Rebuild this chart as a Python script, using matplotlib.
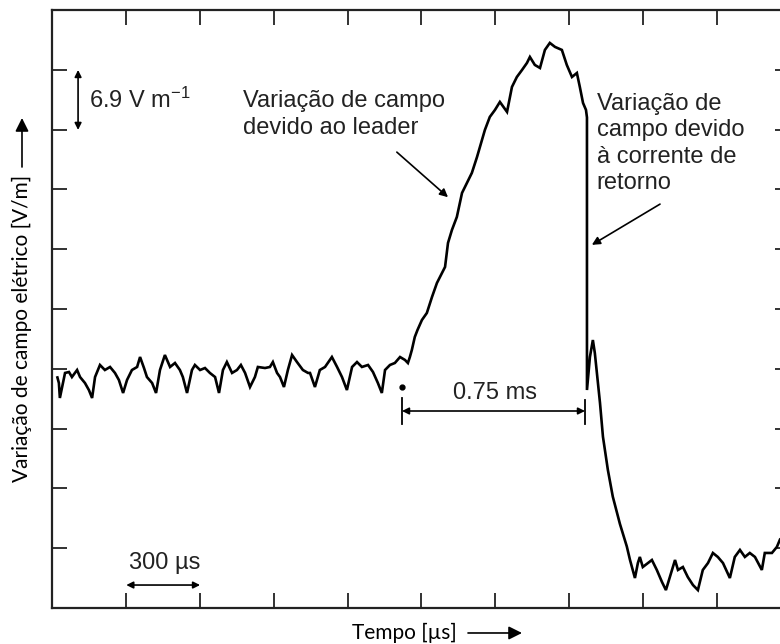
import matplotlib.pyplot as plt
import numpy as np

plt.rcParams["font.family"] = ["Liberation Sans", "DejaVu Sans"]
plt.rcParams["mathtext.default"] = "regular"

# registo da variação do campo: tempo [µs] e campo [V/m]
tempo = [
    20, 26, 30, 51, 67, 79, 100, 112, 132, 148, 161, 173, 193, 213, 234, 254,
    270, 287, 303, 323, 344, 356, 372, 384, 405, 421, 437, 457, 478, 498, 518,
    530, 547, 567, 579, 600, 620, 640, 661, 677, 693, 709, 730, 750, 766, 783,
    803, 823, 835, 864, 884, 896, 913, 925, 941, 957, 974, 994, 1018, 1039,
    1047, 1067, 1087, 1108, 1136, 1157, 1177, 1197, 1218, 1238, 1258, 1283,
    1303, 1323, 1339, 1352, 1372, 1392, 1413, 1433, 1445,
    # subida (leader)
    1453, 1461, 1473, 1484, 1502, 1522, 1543, 1563, 1596, 1608, 1624, 1644,
    1665, 1685, 1705, 1726, 1746, 1758, 1778, 1799, 1819, 1848, 1868, 1888,
    1909, 1929, 1941, 1961, 1982, 2002, 2022, 2043, 2071, 2091, 2112, 2132,
    2144, 2157, 2169,
    # corrente de retorno
    2173, 2173, 2185, 2197, 2205, 2226, 2238, 2258, 2278, 2307, 2335, 2348,
    2368, 2380, 2388, 2400, 2421, 2437, 2457, 2478, 2494, 2510, 2531, 2543,
    2563, 2583, 2604, 2624, 2644, 2665, 2685, 2705, 2726, 2754, 2774, 2795,
    2815, 2835, 2856, 2884, 2896, 2925, 2945, 2957, 2975, 2995,
]
campo = [
    -1.0, -1.64, -3.37, -0.48, -0.37, -0.95, -0.14, -0.95, -1.64, -2.45,
    -3.37, -0.95, 0.44, -0.14, 0.21, -0.48, -1.29, -2.79, -1.29, -0.14, 0.21,
    1.36, 0.09, -0.95, -1.64, -2.79, -0.14, 1.59, 0.21, 0.67, -0.14, -0.95,
    -2.79, -0.14, 0.44, -0.14, 0.09, -0.48, -0.95, -2.79, -0.14, 0.78, -0.48,
    -0.14, 0.44, -0.48, -2.10, -0.95, 0.21, 0.09, 0.21, 0.78, -0.48, -0.95,
    -2.10, -0.14, 1.59, 0.78, -0.14, -0.48, -0.48, -2.10, -0.14, 0.21, 1.36,
    0.21, -0.95, -2.45, 0.21, 0.78, 0.21, 0.44, -0.37, -1.64, -2.79, -0.14,
    0.44, 0.67, 1.36, 1.02, 0.67,
    1.36, 2.17, 3.67, 4.48, 5.63, 6.44, 8.29, 9.90, 11.75, 14.52, 16.02,
    17.52, 20.29, 21.44, 22.60, 24.44, 26.40, 27.56, 29.06, 29.87, 30.79,
    29.64, 32.52, 33.67, 34.48, 35.29, 35.98, 35.06, 34.71, 36.79, 37.60,
    37.14, 36.79, 35.06, 33.67, 34.13, 32.52, 30.67, 29.87,
    29.0, -2.45, 1.36, 3.32, 1.82, -3.95, -7.84, -11.67, -14.75, -17.9,
    -20.5, -22.06, -24.14, -22.41, -21.71, -22.87, -22.41, -22.06, -23.21,
    -24.60, -25.53, -24.03, -22.06, -23.21, -22.87, -24.03, -24.95, -25.53,
    -23.21, -22.41, -21.25, -21.71, -22.41, -24.14, -21.71, -20.9, -21.71,
    -21.25, -21.71, -23.21, -21.25, -21.25, -20.56, -19.75, -20.2, -19.6,
]

# divisões da grelha: 300 µs e 6.9 V/m
x_ticks = np.arange(0, 3001, 300)
y_ticks = np.arange(-27.6, 41.5, 6.9)

fig = plt.figure(figsize=(7.8, 6.44), dpi=100)
ax = fig.add_axes([0.0673, 0.0559, 0.946, 0.9286])

ax.plot(tempo, campo, color="black", lw=1.9, solid_joinstyle="miter")

ax.set_xlim(0, 3000)
ax.set_ylim(-27.6, 41.4)
ax.set_xticks(x_ticks)
ax.set_yticks(y_ticks)
ax.set_xticklabels([])
ax.set_yticklabels([])
ax.tick_params(direction="in", length=11, width=1.3, top=True, right=True,
               color="#222222")
for s in ax.spines.values():
    s.set_linewidth(1.6)
    s.set_color("#222222")

seta = dict(arrowstyle="-|>", color="black", lw=1.2,
            mutation_scale=12, shrinkA=0, shrinkB=0)
seta_dupla = dict(arrowstyle="<|-|>", color="black", lw=1.2,
                  mutation_scale=10, shrinkA=0, shrinkB=0)

# escala vertical
ax.annotate("", xy=(104, 34.48), xytext=(104, 27.56), arrowprops=seta_dupla)
ax.text(150, 31.0, "6.9 V m$^{-1}$", fontsize=17, va="center", ha="left",
        color="#222222")

# leader
ax.text(774, 29.35, "Variação de campo\ndevido ao leader", fontsize=17,
        va="center", ha="left", color="#222222", linespacing=1.25)
ax.annotate("", xy=(1608, 19.8), xytext=(1400, 25.0), arrowprops=seta)

# corrente de retorno
ax.text(2213, 26.0, "Variação de\ncampo devido\nà corrente de\nretorno",
        fontsize=17, va="center", ha="left", color="#222222", linespacing=1.25)
ax.annotate("", xy=(2193, 14.3), xytext=(2470, 19.0), arrowprops=seta)

# intervalo 0.75 ms
ax.plot([1421], [-2.1], "o", color="black", ms=3.5)
ax.plot([1421, 1421], [-3.37, -6.37], color="black", lw=1.3)
ax.plot([2165, 2165], [-3.6, -6.37], color="black", lw=1.3)
ax.annotate("", xy=(1421, -4.87), xytext=(2165, -4.87), arrowprops=seta_dupla)
ax.text(1799, -2.8, "0.75 ms", fontsize=17, ha="center", va="center",
        color="#222222")

# escala horizontal
ax.annotate("", xy=(300, -24.95), xytext=(600, -24.95), arrowprops=seta_dupla)
ax.text(457, -22.4, "300 µs", fontsize=17, ha="center", va="center",
        color="#222222")

# rótulos dos eixos com setas
fig.text(0.0282, 0.4907, "Variação de campo elétrico [V/m]", rotation=90,
         ha="center", va="center", fontsize=15, family=["Lato", "DejaVu Sans"])
fig.text(0.519, 0.0171, "Tempo [µs]", ha="center", va="center", fontsize=15,
         family=["Lato", "DejaVu Sans"])
ax.annotate("", xy=(0.0282, 1 - 118 / 644), xytext=(0.0282, 1 - 167 / 644),
            xycoords="figure fraction", textcoords="figure fraction",
            arrowprops=dict(arrowstyle="-|>", color="black", lw=1.2,
                            mutation_scale=20, shrinkA=0, shrinkB=0))
ax.annotate("", xy=(522 / 780, 0.0171), xytext=(468 / 780, 0.0171),
            xycoords="figure fraction", textcoords="figure fraction",
            arrowprops=dict(arrowstyle="-|>", color="black", lw=1.2,
                            mutation_scale=20, shrinkA=0, shrinkB=0))

fig.savefig("out.png", dpi=100)
